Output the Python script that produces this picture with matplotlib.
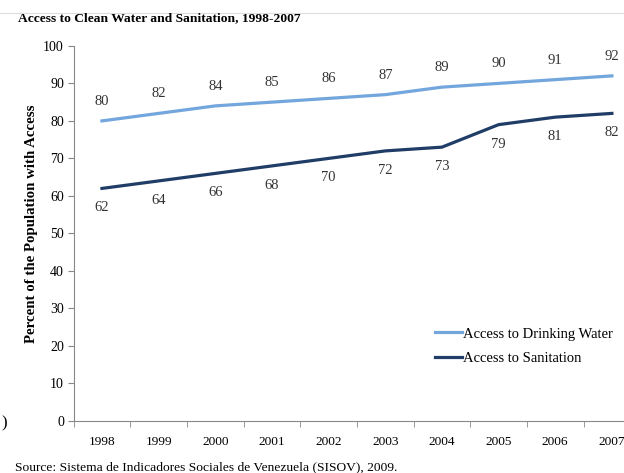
import numpy as np
import matplotlib.pyplot as plt

years = ['1998', '1999', '2000', '2001', '2002', '2003', '2004', '2005', '2006', '2007']
water = [80, 82, 84, 85, 86, 87, 89, 90, 91, 92]
sanitation = [62, 64, 66, 68, 70, 72, 73, 79, 81, 82]

plt.rcParams['font.family'] = ['Liberation Serif', 'DejaVu Serif']

fig = plt.figure(figsize=(6.24, 4.73), dpi=100)
ax = fig.add_axes([0.118, 0.11, 0.908, 0.793])

x = np.arange(len(years))
ax.plot(x, water, color='#72a6dc', lw=2.3, label='Access to Drinking Water')
ax.plot(x, sanitation, color='#1f3d66', lw=2.3, label='Access to Sanitation')

for i, v in enumerate(water):
    ax.annotate(str(v), (i, v), xytext=(0, 14), textcoords='offset points',
                ha='center', va='center', fontsize=10.5, color='#333333')
for i, v in enumerate(sanitation):
    ax.annotate(str(v), (i, v), xytext=(0, -14), textcoords='offset points',
                ha='center', va='center', fontsize=10.5, color='#333333')

ax.set_xlim(-0.5, 9.5)
ax.set_ylim(0, 100)
ax.set_yticks(range(0, 101, 10))
ax.set_xticks(x)
ax.set_xticklabels(years)
ax.set_xticks(np.arange(-0.5, 10, 1), minor=True)
ax.tick_params(axis='x', which='major', length=0, pad=11, labelsize=9.6)
ax.tick_params(axis='x', which='minor', length=4, color='#888888')
ax.tick_params(axis='y', length=4, color='#888888', labelsize=10, pad=3)
for s in ['top', 'right']:
    ax.spines[s].set_visible(False)
for s in ['left', 'bottom']:
    ax.spines[s].set_color('#888888')
ax.set_ylabel('Percent of the Population with Access', fontsize=10.7, fontweight='bold', labelpad=4)
ax.yaxis.label.set_y(0.525)

leg = ax.legend(loc='lower right', bbox_to_anchor=(0.975, 0.115), frameon=False,
                fontsize=10.5, handlelength=1.8, handletextpad=0.1, labelspacing=0.75)

fig.text(0.029, 0.962, 'Access to Clean Water and Sanitation, 1998-2007',
         fontsize=9.7, fontweight='bold', va='center')
fig.add_artist(plt.Line2D([0.0, 1.0], [0.973, 0.973], color='#dddddd', lw=0.8))
fig.text(0.024, 0.012, 'Source: Sistema de Indicadores Sociales de Venezuela (SISOV), 2009.',
         fontsize=9.7, va='center')
fig.text(0.002, 0.105, ')', fontsize=12, va='center')

fig.savefig('out.png', dpi=100)
